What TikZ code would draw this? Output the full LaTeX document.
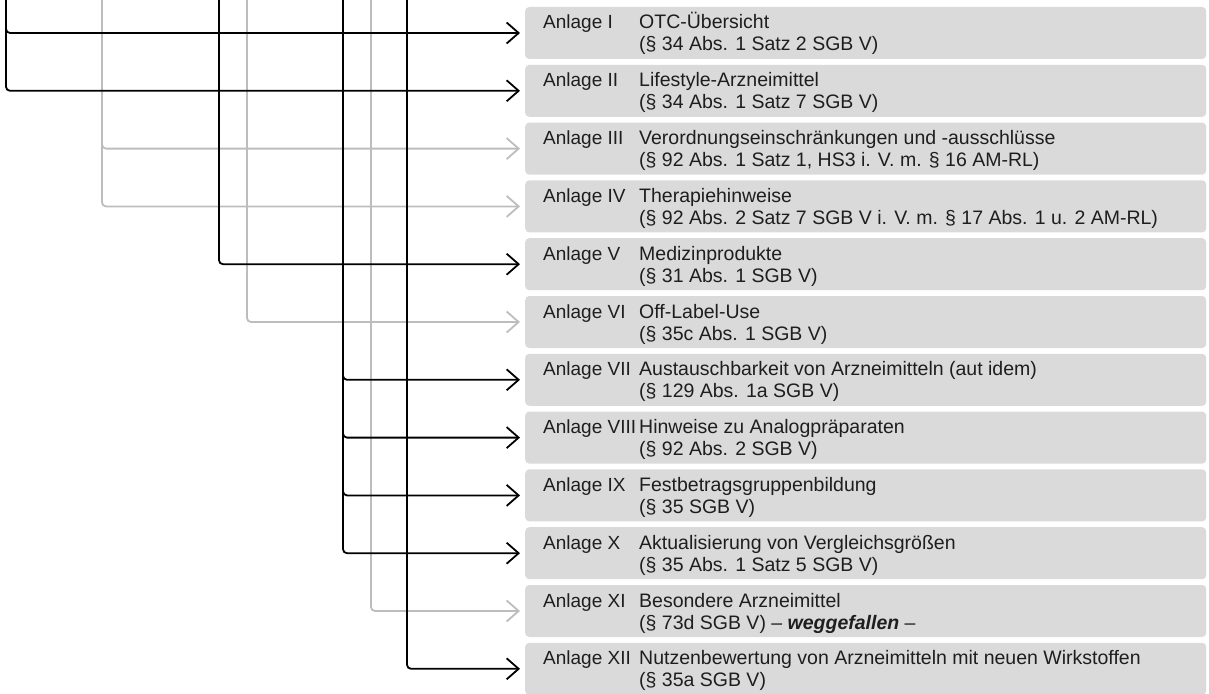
\documentclass[tikz,border=0pt]{standalone}
\usepackage{fontspec}
\setmainfont{Liberation Sans}
\usetikzlibrary{arrows.meta, calc}
\definecolor{boxgray}{HTML}{DADADA}
\definecolor{linegray}{HTML}{BDBDBD}
\definecolor{ink}{HTML}{1E1E1E}

\tikzset{
  anlage/.style={fill=boxgray, rounded corners=4pt, minimum width=681pt,
    minimum height=52pt, anchor=west, inner sep=0pt},
  nr/.style={anchor=base west, inner sep=0pt, text=ink,
    font=\fontsize{19}{22}\selectfont},
  txt/.style={nr, font=\fontsize{19.5}{22}\selectfont},
  wire/.style={->, line width=1.8pt, rounded corners=4pt, shorten >=5pt},
  active/.style={wire, black},
  dropped/.style={wire, linegray},
}

\begin{document}
\begin{tikzpicture}[x=1pt, y=-1pt, >={Straight Barb[length=12pt,width=21pt]}]
  \clip (0,0) rectangle (1209,693);
  % boxes of the annexes
  \foreach \r/\nr/\titel/\norm in {
      1/I/OTC-Übersicht/{(§ 34 Abs. 1 Satz 2 SGB V)},
      2/II/Lifestyle-Arzneimittel/{(§ 34 Abs. 1 Satz 7 SGB V)},
      3/III/Verordnungseinschränkungen und -ausschlüsse/{(§ 92 Abs. 1 Satz 1, HS3 i. V. m. § 16 AM-RL)},
      4/IV/Therapiehinweise/{(§ 92 Abs. 2 Satz 7 SGB V i. V. m. § 17 Abs. 1 u. 2 AM-RL)},
      5/V/Medizinprodukte/{(§ 31 Abs. 1 SGB V)},
      6/VI/Off-Label-Use/{(§ 35c Abs. 1 SGB V)},
      7/VII/Austauschbarkeit von Arzneimitteln (aut idem)/{(§ 129 Abs. 1a SGB V)},
      8/VIII/Hinweise zu Analogpräparaten/{(§ 92 Abs. 2 SGB V)},
      9/IX/Festbetragsgruppenbildung/{(§ 35 SGB V)},
      10/X/Aktualisierung von Vergleichsgrößen/{(§ 35 Abs. 1 Satz 5 SGB V)},
      11/XI/Besondere Arzneimittel/{(§ 73d SGB V) – \textbf{\textit{weggefallen}} –},
      12/XII/Nutzenbewertung von Arzneimitteln mit neuen Wirkstoffen/{(§ 35a SGB V)}} {
    \node[anlage] (a\r) at (525, {33+57.8*(\r-1)}) {};
    \node[nr] (n\r) at ($(a\r.west)+(18,-4)$) {Anlage \nr};
    \node[txt] (t\r) at ($(a\r.west)+(114,-4)$) {\titel};
    \node[txt] (p\r) at ($(a\r.west)+(114,18)$) {\norm};
  }
  % tops of the vertical lines
  \coordinate (colA) at (6,-10);
  \coordinate (colB) at (102,-10);
  \coordinate (colC) at (219,-10);
  \coordinate (colD) at (247,-10);
  \coordinate (colE) at (343,-10);
  \coordinate (colF) at (371,-10);
  \coordinate (colG) at (407,-10);
  % dropped annexes (gray)
  \draw[dropped] (colB) |- (a3.west);
  \draw[dropped] (colB) |- (a4.west);
  \draw[dropped] (colD) |- (a6.west);
  \draw[dropped] (colF) |- (a11.west);
  % active annexes (black)
  \draw[active] (colA) |- (a1.west);
  \draw[active] (colA) |- (a2.west);
  \draw[active] (colC) |- (a5.west);
  \foreach \r in {7,8,9,10} {
    \draw[active] (colE) |- (a\r.west);
  }
  \draw[active] (colG) |- (a12.west);
\end{tikzpicture}
\end{document}
